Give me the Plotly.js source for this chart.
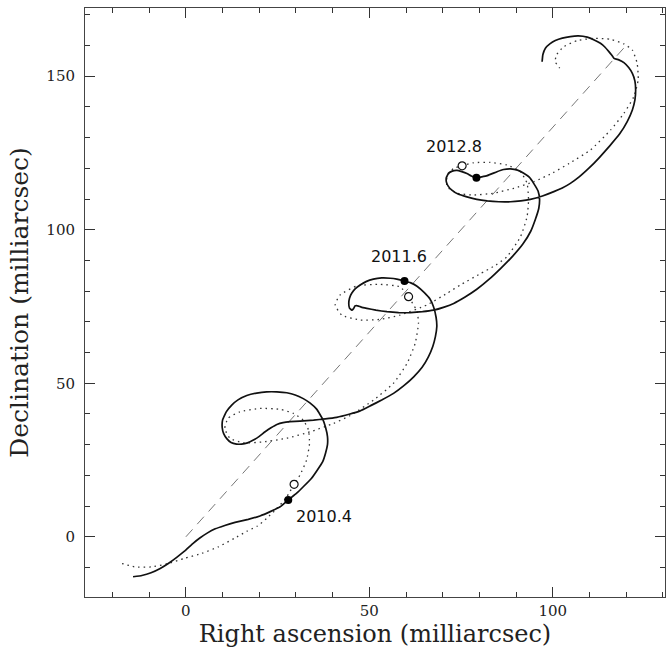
<!DOCTYPE html>
<html>
<head>
<meta charset="utf-8">
<script src="https://cdn.plot.ly/plotly-3.0.1.min.js"></script>
<style>html,body{margin:0;padding:0;background:#fff;}#chart{width:667px;height:655px;}</style>
</head>
<body>
<div id="chart"></div>
<script>
// Solid track (milliarcsec)
const solidRA = [-14.4,-12.0,-9.5,-7.0,-4.8,-2.5,-0.3,1.8,3.8,5.8,8.0,10.6,13.4,17.0,20.2,23.0,25.7,27.9,30.2,32.0,34.2,35.8,37.3,38.1,38.6,38.6,38.1,37.3,35.7,33.8,32.0,29.8,27.5,24.8,22.0,19.3,16.6,14.2,12.5,11.0,10.0,9.9,10.3,11.2,12.3,13.8,15.2,16.8,18.4,20.0,21.6,23.2,24.8,26.5,28.4,31.1,34.8,38.0,41.1,44.5,47.5,50.5,53.5,56.6,59.5,62.1,64.4,66.1,67.3,68.0,68.4,68.2,67.5,66.5,65.0,63.0,61.3,59.6,57.5,55.7,53.4,51.1,49.1,47.5,46.2,45.2,44.6,44.4,44.6,45.2,45.7,46.1,46.6,47.8,49.3,51.8,54.8,58.0,61.2,64.5,67.5,70.4,73.0,76.0,79.3,82.6,85.9,89.1,91.9,94.0,95.3,96.2,96.4,96.0,94.8,93.6,92.1,90.4,88.5,86.6,84.8,82.1,79.2,77.8,76.6,75.2,73.9,72.6,71.6,71.0,71.0,71.5,72.5,74.2,76.6,79.3,82.1,85.3,88.5,91.3,93.9,97.2,100.3,102.6,104.8,107.2,110.0,112.7,115.6,118.3,120.3,121.7,122.4,122.6,122.4,121.7,120.7,119.4,118.0,116.7,116.0,115.3,114.2,113.0,111.3,109.4,107.0,104.8,102.6,100.7,99.2,98.0,97.3,97.1];
const solidDec = [-13.0,-12.6,-11.7,-10.3,-8.7,-6.7,-4.6,-2.3,-0.4,1.2,2.6,3.7,4.7,5.7,6.8,8.2,9.8,12.0,14.2,16.3,19.0,21.7,24.5,27.4,30.0,32.6,35.5,38.3,41.5,43.6,45.0,46.2,46.9,47.2,47.2,46.8,46.0,44.6,42.9,40.7,38.0,35.6,33.6,31.9,30.7,30.2,30.2,30.6,31.5,32.7,34.2,35.5,36.6,37.2,37.5,37.7,38.0,38.4,38.9,39.9,41.0,42.8,44.6,46.7,49.3,52.1,55.2,58.6,62.0,65.1,68.5,71.5,74.9,77.5,79.5,81.6,82.7,83.3,83.9,84.2,84.3,83.9,83.1,82.0,80.8,79.3,77.7,76.0,74.5,73.8,74.3,75.2,75.3,74.8,74.4,73.8,73.3,73.0,73.0,73.3,73.8,74.8,76.0,78.0,80.6,83.8,87.5,91.4,95.4,99.5,103.5,107.0,110.0,112.6,115.1,117.1,118.4,119.4,119.8,119.6,118.9,117.6,116.9,117.5,118.3,118.9,119.3,119.1,118.4,117.0,115.6,114.2,112.9,111.6,110.7,109.9,109.4,109.1,109.1,109.4,109.9,111.0,112.4,113.6,115.1,117.2,120.2,123.5,127.4,131.3,135.2,139.0,142.3,145.5,148.4,150.9,152.8,154.4,155.3,155.8,157.0,158.0,159.5,160.7,161.8,162.7,163.1,162.9,162.4,161.6,160.5,159.1,157.0,154.7];

// Dotted track (milliarcsec)
const dotRA = [-17.4,-13.9,-9.4,-4.8,-0.3,4.3,8.8,13.2,16.6,19.5,22.0,24.8,27.5,29.5,31.1,32.9,33.7,33.4,32.0,29.3,25.7,20.2,14.7,11.5,10.6,12.0,15.6,21.1,27.5,33.9,40.2,44.8,51.1,56.6,60.3,62.5,63.4,63.0,61.8,60.7,58.4,53.0,46.6,42.0,40.7,42.5,47.5,53.0,58.4,65.7,71.2,74.8,80.0,84.5,87.5,91.2,93.0,93.4,93.0,91.2,87.5,83.0,78.4,75.3,73.0,71.2,71.2,73.9,78.4,83.9,89.4,94.8,100.0,104.5,110.3,115.8,119.4,122.1,123.3,123.0,121.7,119.4,115.8,111.2,106.7,103.0,101.0,100.7,101.9];
const dotDec = [-8.7,-9.8,-9.8,-8.7,-7.0,-5.4,-3.3,-0.5,1.8,3.5,6.0,9.2,13.0,17.1,20.1,25.0,30.4,34.8,38.0,40.2,41.5,41.8,40.7,38.6,35.3,32.1,30.6,30.9,32.1,34.2,36.9,39.5,44.5,50.0,56.5,63.0,69.5,73.5,76.0,78.2,81.4,82.2,81.7,78.7,75.5,72.2,70.6,70.8,72.2,75.5,79.3,82.0,85.5,88.5,91.2,97.7,104.2,109.7,115.1,118.9,121.1,121.9,121.8,120.8,120.0,117.3,114.0,111.9,111.3,111.9,113.5,115.6,118.5,121.6,126.0,132.5,137.9,143.3,148.8,154.2,158.5,160.5,162.0,162.3,161.6,159.6,156.9,154.7,152.6];

// Proper-motion line
const pmRA = [0, 120];
const pmDec = [0, 160];

// Epoch markers
const epochs = ['2010.4', '2011.6', '2012.8'];
const filledRA = [27.9, 59.6, 79.2];
const filledDec = [12.0, 83.3, 116.9];
const openRA = [29.5, 60.7, 75.3];
const openDec = [17.1, 78.2, 120.8];
const labelRA = [37.7, 58.0, 73.0];
const labelDec = [6.5, 91.2, 127.0];

const traces = [
  {x: pmRA, y: pmDec, mode: 'lines', line: {color: '#777', width: 1, dash: '10px,7px'}, hoverinfo: 'skip'},
  {x: dotRA, y: dotDec, mode: 'lines', line: {color: '#333', width: 1.3, dash: '1.5px,4px', shape: 'spline', smoothing: 0.5}, hoverinfo: 'skip'},
  {x: solidRA, y: solidDec, mode: 'lines', line: {color: '#111', width: 1.7, shape: 'spline', smoothing: 0.25}, hoverinfo: 'skip'},
  {x: openRA, y: openDec, mode: 'markers', marker: {size: 8, color: '#fff', line: {color: '#111', width: 1.2}}},
  {x: filledRA, y: filledDec, mode: 'markers', marker: {size: 8, color: '#000'}}
];

const annotations = epochs.map((t, i) => ({
  x: labelRA[i], y: labelDec[i], xref: 'x', yref: 'y', text: t, showarrow: false,
  font: {family: 'DejaVu Sans', size: 16, color: '#111'}
}));

const axisCommon = {
  showgrid: false, zeroline: false, showline: true, linecolor: '#444', linewidth: 1,
  mirror: 'ticks', ticks: 'inside', ticklen: 10, tickwidth: 1, tickcolor: '#333',
  dtick: 50, tick0: 0,
  minor: {ticks: 'inside', ticklen: 5, dtick: 10, tick0: 0, tickcolor: '#333', tickwidth: 1, showgrid: false},
  tickfont: {family: 'DejaVu Serif', size: 15, color: '#222'}
};

const layout = {
  width: 667, height: 655,
  margin: {l: 85, r: 2, t: 8, b: 58},
  paper_bgcolor: '#fff', plot_bgcolor: '#fff',
  showlegend: false,
  xaxis: Object.assign({}, axisCommon, {
    range: [-27.5, 130.6],
    title: {text: 'Right ascension (milliarcsec)', font: {family: 'DejaVu Serif', size: 24, color: '#222'}, standoff: 2}
  }),
  yaxis: Object.assign({}, axisCommon, {
    range: [-19.6, 172.2],
    ticklabelstandoff: 6,
    title: {text: 'Declination (milliarcsec)', font: {family: 'DejaVu Serif', size: 25, color: '#222'}, standoff: 10}
  }),
  annotations: annotations
};

Plotly.newPlot('chart', traces, layout, {staticPlot: true, displayModeBar: false});
</script>
</body>
</html>
